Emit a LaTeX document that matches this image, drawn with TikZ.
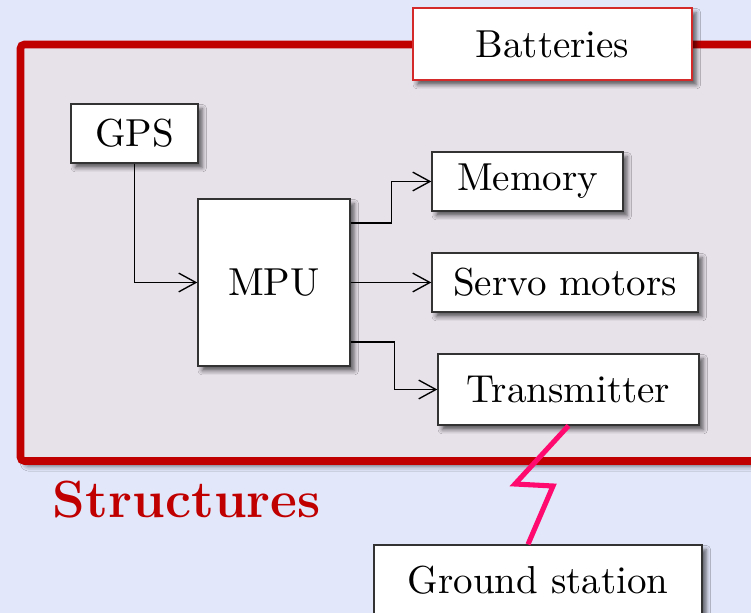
\documentclass[tikz,border=0pt]{standalone}
\usetikzlibrary{arrows.meta,shadows.blur}
\definecolor{bgblue}{HTML}{E2E7FA}
\definecolor{innerfill}{HTML}{E7E1EA}
\definecolor{darkred}{HTML}{C00000}
\definecolor{batred}{HTML}{D42A2A}
\definecolor{boltpink}{HTML}{FF0A6E}
\definecolor{boxline}{HTML}{333333}
\begin{document}
\begin{tikzpicture}[x=0.2564pt,y=-0.2564pt,
  box/.style={draw=boxline,fill=white,line width=0.35pt,inner sep=0pt,
    blur shadow={shadow xshift=1.1pt,shadow yshift=-1.2pt,shadow blur radius=1.1pt,shadow opacity=60}},
  arr/.style={draw=black,line width=0.35pt,-{Straight Barb[length=4.4pt,width=4.8pt,line width=0.35pt]}},
  bolt/.style={draw=boltpink,line width=1.3pt}]
\fill[bgblue] (0,0) rectangle (751,613);
\useasboundingbox (0,0) rectangle (751,613);
\clip (0,0) rectangle (751,613);
% structure frame
\draw[darkred,line width=1.95pt,fill=innerfill,rounded corners=1pt,
  blur shadow={shadow xshift=1.1pt,shadow yshift=-1.4pt,shadow blur radius=1.2pt,shadow opacity=50}]
  (20.5,44.5) rectangle (800,461);
\node[anchor=base west,text=darkred,font=\fontsize{13.4}{16}\selectfont\bfseries,inner sep=0pt] (lbl) at (52,517) {Structures};
% nodes
\node[box,draw=batred,minimum width=71.54pt,minimum height=18.46pt] (bat) at (552.5,44) {Batteries};
\node[box,minimum width=32.56pt,minimum height=15.13pt] (gps) at (134.5,133.5) {GPS};
\node[box,minimum width=38.97pt,minimum height=42.82pt] (mpu) at (274,282.5) {MPU};
\node[box,minimum width=48.97pt,minimum height=15.13pt] (mem) at (527.5,181.5) {Memory};
\node[box,minimum width=68.20pt,minimum height=15.13pt] (servo) at (565,282.5) {Servo motors};
\node[box,minimum width=66.92pt,minimum height=18.20pt] (tx) at (568.5,389.5) {Transmitter};
\node[box,minimum width=84.10pt,minimum height=18.20pt] (gs) at (538,580.5) {Ground station};
% connectors
\draw[arr] (gps.south) |- (mpu.west);
\draw[arr] ([yshift=15.26pt]mpu.east) -- ++(41,0) |- (mem.west);
\draw[arr] (mpu.east) -- (servo.west);
\draw[arr] ([yshift=-15.26pt]mpu.east) -- ++(44,0) |- (tx.west);
\coordinate (gsin) at ([xshift=-2.56pt]gs.north);
\draw[bolt] (tx.south) -- (515,484) -- (553,486) -- (gsin);
\end{tikzpicture}
\end{document}
